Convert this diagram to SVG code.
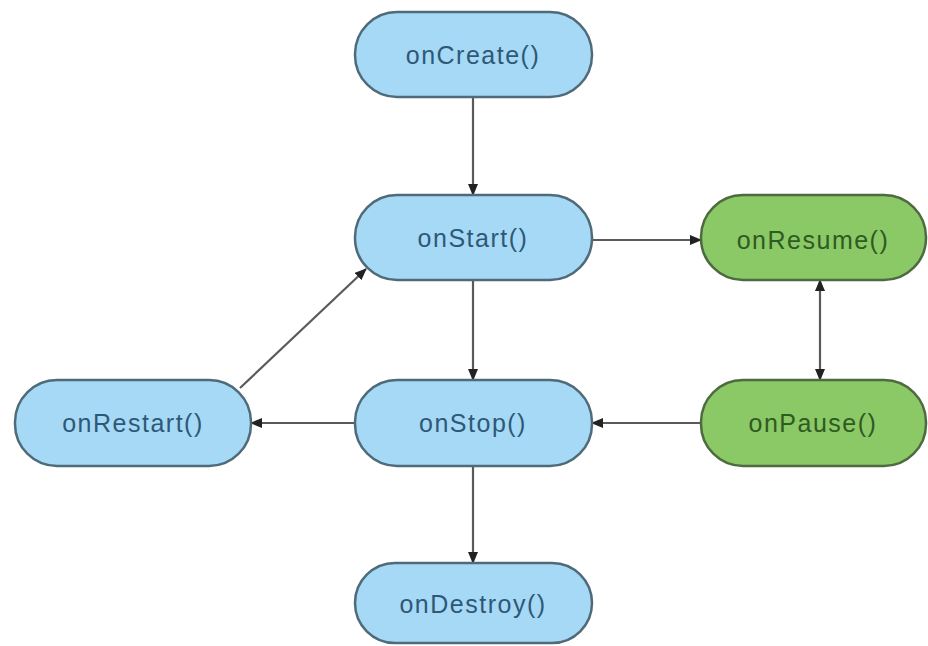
<svg xmlns="http://www.w3.org/2000/svg" width="928" height="646" viewBox="0 0 928 646">
<style>
.blue rect{fill:#a6d9f5;stroke:#4f6a78;stroke-width:2.5}
.green rect{fill:#8bc866;stroke:#4e6a40;stroke-width:2.5}
text{font-family:"Liberation Sans",Arial,sans-serif;font-size:25px;letter-spacing:1.5px;text-anchor:middle;dominant-baseline:central}
.blue text{fill:#2e5877}
.green text{fill:#2f5a22}
.conn line{stroke:#5a5a5a;stroke-width:2.2;fill:none}
</style>
<defs>
<marker id="ah" viewBox="0 0 12 10" refX="11" refY="5" markerWidth="12" markerHeight="10" markerUnits="userSpaceOnUse" orient="auto-start-reverse">
<path d="M0,0 L12,5 L0,10 Z" fill="#222"/>
</marker>
</defs>
<rect width="928" height="646" fill="#fff"/>
<g class="conn">
<line x1="473" y1="97" x2="473" y2="195" marker-end="url(#ah)"/>
<line x1="592" y1="240" x2="701" y2="240" marker-end="url(#ah)"/>
<line x1="820" y1="280" x2="820" y2="380" marker-start="url(#ah)" marker-end="url(#ah)"/>
<line x1="473" y1="280" x2="473" y2="380" marker-end="url(#ah)"/>
<line x1="701" y1="423" x2="592" y2="423" marker-end="url(#ah)"/>
<line x1="355" y1="423" x2="251" y2="423" marker-end="url(#ah)"/>
<line x1="240" y1="388" x2="366" y2="269" marker-end="url(#ah)"/>
<line x1="473" y1="466" x2="473" y2="563" marker-end="url(#ah)"/>
</g>
<g id="onCreate" class="blue"><rect x="355" y="12" width="237" height="85" rx="42"/><text x="473" y="55">onCreate()</text></g>
<g id="onStart" class="blue"><rect x="355" y="195" width="237" height="85" rx="42"/><text x="473" y="238">onStart()</text></g>
<g id="onResume" class="green"><rect x="701" y="195" width="225" height="85" rx="42"/><text x="813" y="240">onResume()</text></g>
<g id="onRestart" class="blue"><rect x="15" y="380" width="236" height="86" rx="42"/><text x="133" y="423">onRestart()</text></g>
<g id="onStop" class="blue"><rect x="355" y="380" width="237" height="86" rx="42"/><text x="473" y="423">onStop()</text></g>
<g id="onPause" class="green"><rect x="701" y="380" width="225" height="86" rx="42"/><text x="813" y="423">onPause()</text></g>
<g id="onDestroy" class="blue"><rect x="355" y="563" width="237" height="80" rx="40"/><text x="473" y="604">onDestroy()</text></g>
</svg>
